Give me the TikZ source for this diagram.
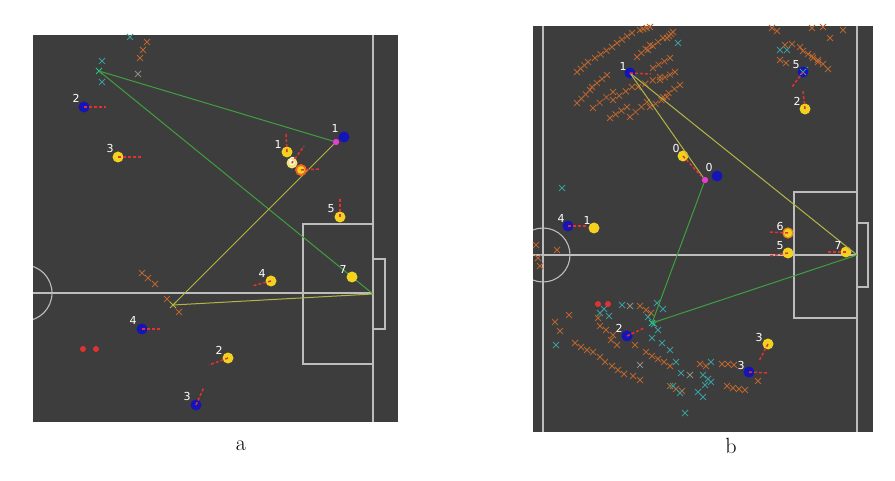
\documentclass[tikz,border=0pt]{standalone}
\usepackage{fontspec}
\newfontfamily\numfont{DejaVu Sans}
\usetikzlibrary{calc}
\definecolor{bgDark}{HTML}{3D3D3D}
\definecolor{lineGray}{HTML}{BDBDBD}
\definecolor{passGreen}{HTML}{3FA03F}
\definecolor{passYel}{HTML}{B5B545}
\definecolor{xOrange}{HTML}{B8642E}
\definecolor{xCyan}{HTML}{3A9C9C}
\definecolor{xGray}{HTML}{8C8C80}
\definecolor{pBlue}{HTML}{1414B8}
\definecolor{pYel}{HTML}{F2D21E}
\definecolor{pLight}{HTML}{F4E27A}
\definecolor{pOrange}{HTML}{F0641E}
\definecolor{pRed}{HTML}{E03232}
\definecolor{pMag}{HTML}{E83CD2}
\tikzset{
  xm/.pic={\draw[line width=0.8pt] (-3,-3)--(3,3) (-3,3)--(3,-3);},
}
\begin{document}
\begin{tikzpicture}[x=1pt,y=-1pt,
  fieldline/.style={draw=lineGray,line width=1.1pt},
  blueP/.style={circle,fill=pBlue,inner sep=0pt,minimum size=11pt},
  yelP/.style={circle,fill=pYel,inner sep=0pt,minimum size=11pt},
  magP/.style={circle,fill=pMag,inner sep=0pt,minimum size=6pt},
  redDot/.style={circle,fill=pRed,inner sep=0pt,minimum size=6pt},
  lbl/.style={text=white,font=\numfont\fontsize{11}{11}\selectfont,inner sep=0pt},
  dirline/.style={draw=pRed,dash pattern=on 3pt off 2pt,line width=1.5pt},
  gline/.style={draw=passGreen,line width=1pt},
  yline/.style={draw=passYel,line width=1pt},
  captxt/.style={font=\fontsize{22}{22}\selectfont,inner sep=0pt,anchor=base},
  ptnode/.style={inner sep=0pt,minimum size=0pt}]
\useasboundingbox[fill=white] (0,0) rectangle (895,481);

% ================= PANEL A =================
\fill[bgDark] (33,35) rectangle (398,422);
\begin{scope}
  \clip (33,35) rectangle (398,422);
  \draw[fieldline] (24,293) circle[radius=28];
\end{scope}
\draw[fieldline] (373,35) -- (373,422);
\draw[fieldline] (33,293) -- (373,293);
\draw[fieldline] (303,224) rectangle (373,364);
\draw[fieldline] (373,259) rectangle (385,329);

% crosses
\foreach \x/\y in {102/61,102/82,130/37}
  \pic[color=xCyan] at (\x,\y) {xm};
\foreach \x/\y in {147/42,143/50,140/58,142/273,148/278,155/284,167/299,179/312}
  \pic[color=xOrange] at (\x,\y) {xm};
\pic[color=xGray] at (138,74) {xm};
\pic[color=passGreen!60!cyan] at (99,71) {xm};
\pic[color=passYel] at (173,305) {xm};

% pass points
\node[ptnode] (pa1) at (99,71) {};
\node[magP] (pa2) at (336,142) {};
\node[ptnode] (pa3) at (173,305) {};
\node[ptnode] (pa4) at (373,294) {};
\draw[gline] (pa1) -- (pa2);
\draw[gline] (pa1) -- (pa4);
\draw[yline] (pa3) -- (pa2);
\draw[yline] (pa3) -- (pa4);

% players
\node[blueP] (aB2) at (84,107) {};
\node[yelP] (aY3) at (118,157) {};
\node[blueP] (aB1) at (344,137) {};
\node[yelP] (aY1) at (287,152) {};
\node[circle,fill=pLight,inner sep=0pt,minimum size=11pt] (aY6) at (292,163) {};
\node[circle,fill=pYel,draw=pOrange,line width=1.8pt,inner sep=0pt,minimum size=10pt] (aY0) at (301,170) {};
\node[yelP] (aY5) at (340,217) {};
\node[yelP] (aY4) at (271,281) {};
\node[yelP] (aY7) at (352,277) {};
\node[blueP] (aB4) at (142,329) {};
\node[yelP] (aY2) at (228,358) {};
\node[blueP] (aB3) at (196,405) {};
\node[redDot] (aR1) at (83,349) {};
\node[redDot] (aR2) at (96,349) {};
\node[magP] at (pa2) {};

% direction arrows
\coordinate (aB2d) at (106,107);
\coordinate (aY3d) at (141,157);
\coordinate (aY1d) at (286,132);
\coordinate (aY6d) at (304,146);
\coordinate (aY0d) at (321,169);
\coordinate (aY5d) at (340,197);
\coordinate (aY4d) at (252,286);
\coordinate (aB4d) at (162,329);
\coordinate (aY2d) at (209,365);
\coordinate (aB3d) at (204,387);
\foreach \n in {aB2,aY3,aY1,aY6,aY0,aY5,aY4,aB4,aY2,aB3}
  \draw[dirline] (\n.center) -- (\n d);

% labels
\node[lbl] (aL2) at (76,98) {2};
\node[lbl] (aL3) at (110,148) {3};
\node[lbl] (aL1b) at (335,128) {1};
\node[lbl] (aL1y) at (278,144) {1};
\node[lbl] (aL6) at (292,161) {6};
\node[lbl] (aL5) at (331,209) {5};
\node[lbl] (aL4y) at (262,273) {4};
\node[lbl] (aL7) at (343,269) {7};
\node[lbl] (aL4b) at (133,320) {4};
\node[lbl] (aL2y) at (219,350) {2};
\node[lbl] (aL3b) at (187,396) {3};

\node[captxt] (capA) at (241,450) {a};

% ================= PANEL B =================
\fill[bgDark] (533,26) rectangle (873,432);
\begin{scope}
  \clip (533,26) rectangle (873,432);
  \draw[fieldline] (543,255) circle[radius=27];
\end{scope}
\draw[fieldline] (543,26) -- (543,432);
\draw[fieldline] (857,26) -- (857,432);
\draw[fieldline] (533,255) -- (857,255);
\draw[fieldline] (794,192) rectangle (857,318);
\draw[fieldline] (857,223) rectangle (868,287);

% orange strands top-left
\foreach \sx/\sy/\ex/\ey in {
  577/72/588/62, 595/58/612/47, 617/43/632/33, 640/30/650/27,
  592/87/607/75, 637/57/650/45, 648/50/663/38, 577/103/590/90,
  593/108/613/92, 613/100/632/87, 638/87/660/77, 653/68/670/58,
  660/80/675/72, 610/118/627/107, 630/117/647/102, 650/107/667/97,
  663/97/680/85, 667/38/673/32}
  \foreach \t in {0,0.33,0.67,1}
    \pic[color=xOrange] at ($(\sx,\sy)!\t!(\ex,\ey)$) {xm};
% orange top-right
\foreach \x/\y in {772/28,777/31,812/28,823/27,843/30,830/38,785/45,792/44,800/47,
  803/51,808/54,813/58,818/62,812/56,818/60,823/64,828/69,780/60,786/63}
  \pic[color=xOrange] at (\x,\y) {xm};
\foreach \x/\y in {678/43,562/188,780/50,787/50,805/70}
  \pic[color=xCyan] at (\x,\y) {xm};
% bottom crowd orange
\foreach \x/\y in {536/245,557/250,538/258,540/266,555/322,560/331,575/343,581/347,
  587/350,600/326,606/330,613/335,593/352,600/357,605/362,612/366,618/370,
  624/374,633/376,640/380,617/345,635/345,640/306,646/310,651/313,646/352,
  652/356,658/359,664/362,670/366,670/386,676/389,682/391,700/364,706/366,
  722/364,728/364,734/365,727/386,733/388,739/389,745/390,758/381,569/315,
  611/340,598/318}
  \pic[color=xOrange] at (\x,\y) {xm};
% bottom crowd cyan
\foreach \x/\y in {622/305,604/309,609/316,556/345,657/303,663/309,648/317,654/324,
  658/330,652/338,662/343,670/350,676/362,681/373,673/386,680/393,705/385,685/413,
  698/392,708/379,711/362,703/375,711/382,703/397,600/313}
  \pic[color=xCyan] at (\x,\y) {xm};
\foreach \x/\y in {630/306,640/365,690/375}
  \pic[color=xGray] at (\x,\y) {xm};
\pic[color=passGreen!50!cyan] at (652,323) {xm};

% pass points
\node[magP] (pb2) at (705,180) {};
\node[ptnode] (pb3) at (652,323) {};
\node[ptnode] (pb4) at (857,255) {};

% players
\node[blueP] (bB1) at (630,73) {};
\node[yelP] (bY0) at (683,156) {};
\node[blueP] (bB0) at (717,176) {};
\node[blueP] (bB5) at (803,72) {};
\node[yelP] (bY2) at (805,109) {};
\node[blueP] (bB4) at (568,226) {};
\node[yelP] (bY1) at (594,228) {};
\node[blueP] (bB2) at (627,336) {};
\node[circle,fill=pYel,draw=pOrange!70!pYel,line width=1.2pt,inner sep=0pt,minimum size=10pt] (bY6) at (788,233) {};
\node[yelP] (bY5) at (788,253) {};
\node[yelP] (bY7) at (846,252) {};
\node[yelP] (bY3) at (768,344) {};
\node[blueP] (bB3) at (749,372) {};
\node[redDot] (bR1) at (598,304) {};
\node[redDot] (bR2) at (608,304) {};
\pic[color=xCyan] at (803,72) {xm};

\draw[yline] (bB1.center) -- (pb2);
\draw[yline] (bB1.center) -- (pb4);
\draw[gline] (pb2) -- (pb3);
\draw[gline] (pb3) -- (pb4);
\node[magP] at (pb2) {};

\coordinate (bB1d) at (651,74);
\coordinate (bY0d) at (701,176);
\coordinate (bB5d) at (792,87);
\coordinate (bY2d) at (803,91);
\coordinate (bB4d) at (586,226);
\coordinate (bB2d) at (644,328);
\coordinate (bY6d) at (769,232);
\coordinate (bY5d) at (769,256);
\coordinate (bY7d) at (827,252);
\coordinate (bY3d) at (759,361);
\coordinate (bB3d) at (768,373);
\foreach \n in {bB1,bY0,bB5,bY2,bB4,bB2,bY6,bY5,bY7,bY3,bB3}
  \draw[dirline] (\n.center) -- (\n d);

\node[lbl] (bL1) at (623,66) {1};
\node[lbl] (bL0y) at (676,148) {0};
\node[lbl] (bL0b) at (709,167) {0};
\node[lbl] (bL5b) at (796,65) {5};
\node[lbl] (bL2y) at (797,101) {2};
\node[lbl] (bL4) at (561,218) {4};
\node[lbl] (bL1y) at (587,220) {1};
\node[lbl] (bL2b) at (619,328) {2};
\node[lbl] (bL6) at (780,226) {6};
\node[lbl] (bL5) at (780,246) {5};
\node[lbl] (bL7) at (838,245) {7};
\node[lbl] (bL3y) at (759,337) {3};
\node[lbl] (bL3b) at (741,365) {3};

\node[captxt] (capB) at (731,453) {b};
\end{tikzpicture}
\end{document}
